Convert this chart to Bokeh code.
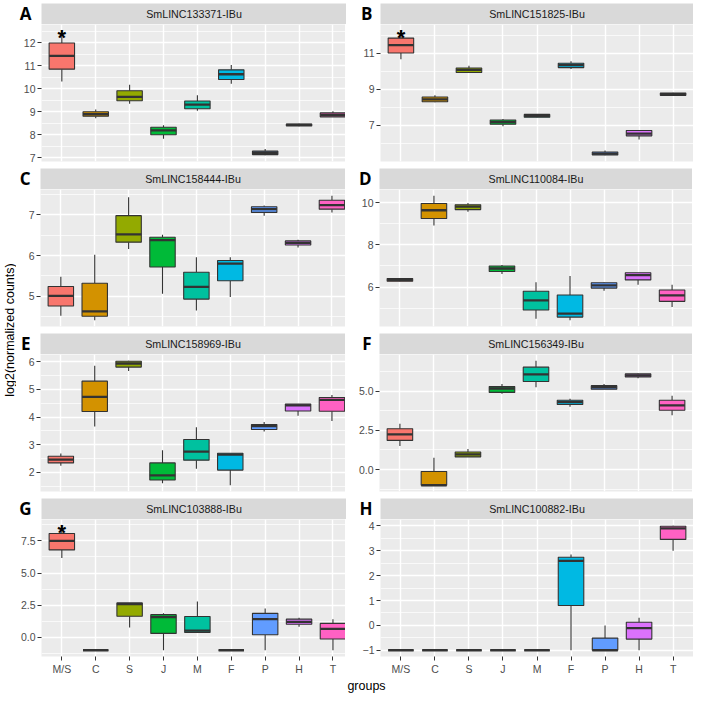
import math
from bokeh.plotting import figure
from bokeh.models import Range1d, FixedTicker, Label, PrintfTickFormatter
from bokeh.layouts import row, column
from bokeh.embed import file_html
from bokeh.resources import INLINE
from bokeh.core.properties import value

# ---------------- data ----------------
groups = ["M/S", "C", "S", "J", "M", "F", "P", "H", "T"]
colors = ["#F8766D", "#D39200", "#93AA00", "#00BA38", "#00C19F",
          "#00B9E3", "#619CFF", "#DB72FB", "#FF61C3"]

A_title = "SmLINC133371-IBu"
A_low  = [10.31, 8.72, 9.35, 7.83, 9.04, 10.22, 7.11, 8.37, 8.78]
A_q1   = [10.85, 8.81, 9.48, 8.00, 9.13, 10.40, 7.14, 8.38, 8.78]
A_med  = [11.43, 8.90, 9.65, 8.19, 9.31, 10.63, 7.22, 8.43, 8.86]
A_q3   = [11.99, 9.00, 9.91, 8.33, 9.47, 10.82, 7.29, 8.47, 8.95]
A_high = [12.52, 9.10, 10.17, 8.41, 9.72, 11.03, 7.38, 8.48, 9.02]
A_ticks = [7, 8, 9, 10, 11, 12]

B_title = "SmLINC151825-IBu"
B_low  = [10.65, 8.26, 9.92, 6.93, 7.42, 10.12, 5.32, 6.19, 8.63]
B_q1   = [11.00, 8.29, 9.92, 7.04, 7.43, 10.19, 5.34, 6.40, 8.65]
B_med  = [11.44, 8.43, 10.06, 7.16, 7.51, 10.33, 5.41, 6.52, 8.72]
B_q3   = [11.83, 8.56, 10.17, 7.28, 7.59, 10.43, 5.50, 6.70, 8.78]
B_high = [12.24, 8.66, 10.29, 7.34, 7.60, 10.54, 5.58, 6.70, 8.80]
B_ticks = [7, 9, 11]

C_title = "SmLINC158444-IBu"
C_low  = [4.52, 4.41, 6.16, 5.06, 4.65, 4.98, 6.98, 6.20, 7.06]
C_q1   = [4.76, 4.51, 6.33, 5.72, 4.93, 5.38, 7.06, 6.26, 7.14]
C_med  = [5.01, 4.63, 6.52, 6.38, 5.23, 5.80, 7.14, 6.31, 7.24]
C_q3   = [5.24, 5.32, 6.98, 6.45, 5.59, 5.88, 7.20, 6.36, 7.36]
C_high = [5.48, 6.02, 7.43, 6.51, 5.96, 5.96, 7.23, 6.39, 7.47]
C_ticks = [5, 6, 7]

D_title = "SmLINC110084-IBu"
D_low  = [6.26, 8.92, 9.58, 6.62, 4.49, 4.42, 5.82, 6.11, 5.05]
D_q1   = [6.28, 9.26, 9.68, 6.74, 4.91, 4.57, 5.95, 6.34, 5.32]
D_med  = [6.34, 9.65, 9.82, 6.88, 5.37, 4.74, 6.08, 6.57, 5.60]
D_q3   = [6.40, 9.97, 9.91, 7.00, 5.80, 5.62, 6.20, 6.68, 5.86]
D_high = [6.42, 10.34, 10.00, 7.05, 6.23, 6.52, 6.23, 6.68, 6.11]
D_ticks = [6, 8, 10]

E_title = "SmLINC158969-IBu"
E_low  = [2.24, 3.66, 5.67, 1.60, 2.13, 1.53, 3.48, 4.05, 3.86]
E_q1   = [2.34, 4.20, 5.81, 1.72, 2.44, 2.08, 3.55, 4.22, 4.21]
E_med  = [2.46, 4.73, 5.94, 1.89, 2.75, 2.64, 3.67, 4.42, 4.62]
E_q3   = [2.58, 5.30, 6.02, 2.34, 3.19, 2.69, 3.73, 4.47, 4.71]
E_high = [2.68, 5.86, 6.04, 2.80, 3.63, 2.69, 3.82, 4.47, 4.80]
E_ticks = [2, 3, 4, 5, 6]

F_title = "SmLINC156349-IBu"
F_low  = [1.51, -1.00, 0.81, 4.83, 5.25, 4.01, 5.12, 5.83, 3.47]
F_q1   = [1.86, -1.00, 0.81, 4.92, 5.62, 4.15, 5.12, 5.91, 3.78]
F_med  = [2.25, -1.00, 0.97, 5.17, 6.07, 4.30, 5.25, 6.01, 4.09]
F_q3   = [2.60, -0.12, 1.12, 5.29, 6.53, 4.42, 5.35, 6.10, 4.42]
F_high = [2.93, 0.76, 1.32, 5.45, 6.94, 4.52, 5.45, 6.12, 4.71]
F_ticks = [0.0, 2.5, 5.0]

G_title = "SmLINC103888-IBu"
G_low  = [6.17, -1.00, 0.77, -1.00, 0.39, -1.00, -1.00, 0.82, -1.00]
G_q1   = [6.80, -1.00, 1.65, 0.31, 0.39, -1.00, 0.21, 1.02, -0.12]
G_med  = [7.50, -1.00, 2.58, 1.57, 0.52, -1.00, 1.42, 1.20, 0.67]
G_q3   = [8.08, -1.00, 2.68, 1.77, 1.62, -1.00, 1.87, 1.42, 1.09]
G_high = [8.68, -1.00, 2.68, 1.87, 2.80, -1.00, 2.25, 1.52, 1.42]
G_ticks = [0.0, 2.5, 5.0, 7.5]

H_title = "SmLINC100882-IBu"
H_low  = [-1.00, -1.00, -1.00, -1.00, -1.00, -1.00, -1.00, -1.00, 3.00]
H_q1   = [-1.00, -1.00, -1.00, -1.00, -1.00, 0.80, -1.00, -0.55, 3.46]
H_med  = [-1.00, -1.00, -1.00, -1.00, -1.00, 2.60, -1.00, -0.11, 3.90]
H_q3   = [-1.00, -1.00, -1.00, -1.00, -1.00, 2.74, -0.51, 0.13, 3.99]
H_high = [-1.00, -1.00, -1.00, -1.00, -1.00, 2.85, 0.00, 0.31, 4.01]
H_ticks = [-1, 0, 1, 2, 3, 4]

star_panels = ["A", "B", "G"]   # significance mark on M/S
y_label = "log2(normalized counts)"
x_label = "groups"

# ---------------- layout constants ----------------
YLAB_W = 16
L_BORDER = 24
R_BORDER = 34
LEFT_FW = 305
RIGHT_FW = 313
SH = 21      # strip height
PH = 137     # panel height
GAP_B = 4    # space below a panel
GAP_T = 3    # space above a strip
TOP = 3
AXIS_H = 19
GROUPS_H = 17

FONT = "Liberation Sans"
GRID_BG = "#EBEBEB"
STRIP_BG = "#D9D9D9"
LINE = "#333333"


def bare_fig(w, h, **kw):
    f = figure(frame_width=w, frame_height=h, x_range=Range1d(0, w), y_range=Range1d(0, h),
               toolbar_location=None, output_backend="svg",
               x_axis_location=None, y_axis_location=None, **kw)
    f.outline_line_color = None
    f.background_fill_color = "white"
    f.border_fill_color = "white"
    f.xgrid.visible = False
    f.ygrid.visible = False
    return f


def x_range_for(col):
    return Range1d(0.4, 9.4) if col == 0 else Range1d(0.4, 9.6)


def make_strip(letter, title, col, first_row):
    bl = L_BORDER if col == 0 else R_BORDER
    fw = LEFT_FW if col == 0 else RIGHT_FW
    xr = x_range_for(col)
    s = figure(frame_width=fw, frame_height=SH, x_range=xr, y_range=Range1d(0, SH),
               x_axis_location=None, y_axis_location="left",
               toolbar_location=None, output_backend="svg",
               min_border_left=bl, min_border_right=0,
               min_border_top=TOP if first_row else GAP_T, min_border_bottom=0)
    s.background_fill_color = STRIP_BG
    s.border_fill_color = "white"
    s.outline_line_color = None
    s.xgrid.visible = False
    s.ygrid.visible = False
    mid = SH / 2
    ltick = 11.5
    ax = s.yaxis[0]
    ax.ticker = FixedTicker(ticks=[ltick], minor_ticks=[])
    ax.major_label_overrides = {ltick: letter}
    ax.axis_line_color = None
    ax.major_tick_line_color = None
    ax.major_tick_out = 0
    ax.major_tick_in = 0
    ax.minor_tick_line_color = None
    ax.major_label_standoff = 10 if col == 0 else 8
    ax.major_label_text_font = "Open Sans"
    ax.major_label_text_font_style = "bold"
    ax.major_label_text_font_size = "17px"
    ax.major_label_text_color = "black"
    s.add_layout(Label(x=(xr.start + xr.end) / 2, y=mid, text=title, text_align="center",
                       text_baseline="middle", text_font=FONT, text_font_size="10.7px",
                       text_color="#1A1A1A"))
    return s


def make_panel(letter, low, q1, med, q3, high, ticks, fmt, col, bottom_row):
    xs = list(range(1, len(groups) + 1))
    lo, hi = min(low), max(high)
    d = hi - lo
    lo_e, hi_e = lo - 0.05 * d, hi + 0.05 * d
    fw = LEFT_FW if col == 0 else RIGHT_FW
    p = figure(frame_width=fw, frame_height=PH, x_range=x_range_for(col), y_range=Range1d(lo_e, hi_e),
               x_axis_location="below" if bottom_row else None, y_axis_location="left",
               toolbar_location=None, output_backend="svg",
               min_border_left=L_BORDER if col == 0 else R_BORDER, min_border_right=0,
               min_border_top=0,
               min_border_bottom=AXIS_H if bottom_row else GAP_B)
    p.background_fill_color = GRID_BG
    p.border_fill_color = "white"
    p.outline_line_color = None

    step = ticks[1] - ticks[0]
    minor = [ticks[0] - step / 2] + [t + step / 2 for t in ticks]
    yt = FixedTicker(ticks=ticks, minor_ticks=minor)
    xt = FixedTicker(ticks=xs, minor_ticks=[])

    p.xgrid.ticker = xt
    p.ygrid.ticker = yt
    for g in (p.xgrid[0], p.ygrid[0]):
        g.grid_line_color = "white"
        g.grid_line_width = 1.4
    p.ygrid.minor_grid_line_color = "white"
    p.ygrid.minor_grid_line_width = 0.7

    ax = p.yaxis[0]
    ax.ticker = yt
    ax.axis_line_color = None
    ax.major_tick_line_color = LINE
    ax.major_tick_out = 4
    ax.major_tick_in = 0
    ax.minor_tick_line_color = None
    ax.major_label_text_color = "#4D4D4D"
    ax.major_label_text_font = FONT
    ax.major_label_text_font_size = "10.5px"
    ax.major_label_standoff = 2
    if fmt:
        ax.formatter = PrintfTickFormatter(format=fmt)

    if bottom_row:
        bx = p.xaxis[0]
        bx.ticker = xt
        bx.major_label_overrides = {i: g for i, g in zip(xs, groups)}
        bx.axis_line_color = None
        bx.major_tick_line_color = LINE
        bx.major_tick_out = 4
        bx.major_tick_in = 0
        bx.minor_tick_line_color = None
        bx.major_label_text_color = "#4D4D4D"
        bx.major_label_text_font = FONT
        bx.major_label_text_font_size = "10.5px"
        bx.major_label_standoff = 2

    p.segment(x0=xs, y0=q3, x1=xs, y1=high, line_color=LINE, line_width=1.1)
    p.segment(x0=xs, y0=low, x1=xs, y1=q1, line_color=LINE, line_width=1.1)
    p.vbar(x=xs, width=0.75, bottom=q1, top=q3, fill_color=colors,
           line_color=LINE, line_width=1.1)
    p.segment(x0=[x - 0.375 for x in xs], y0=med, x1=[x + 0.375 for x in xs], y1=med,
              line_color=LINE, line_width=2.3)

    if letter in star_panels:
        p.text(x=[xs[0]], y=[high[0]], text=["*"], text_align="center",
               text_baseline="alphabetic", y_offset=7,
               text_font=value(FONT), text_font_style="bold",
               text_font_size="22px", text_color="black")
    return p


specs = [
    ("A", A_title, A_low, A_q1, A_med, A_q3, A_high, A_ticks, None),
    ("B", B_title, B_low, B_q1, B_med, B_q3, B_high, B_ticks, None),
    ("C", C_title, C_low, C_q1, C_med, C_q3, C_high, C_ticks, None),
    ("D", D_title, D_low, D_q1, D_med, D_q3, D_high, D_ticks, None),
    ("E", E_title, E_low, E_q1, E_med, E_q3, E_high, E_ticks, None),
    ("F", F_title, F_low, F_q1, F_med, F_q3, F_high, F_ticks, "%.1f"),
    ("G", G_title, G_low, G_q1, G_med, G_q3, G_high, G_ticks, "%.1f"),
    ("H", H_title, H_low, H_q1, H_med, H_q3, H_high, H_ticks, None),
]

cells = []
for i, (letter, title, low, q1, med, q3, high, ticks, fmt) in enumerate(specs):
    r_i, c_i = divmod(i, 2)
    strip = make_strip(letter, title, c_i, r_i == 0)
    panel = make_panel(letter, low, q1, med, q3, high, ticks, fmt, c_i, r_i == 3)
    cells.append(column(strip, panel))

grid = column(*[row(cells[2 * k], cells[2 * k + 1]) for k in range(4)])

panel_area_h = 4 * (SH + PH) + 3 * (GAP_B + GAP_T)
grid_h = TOP + panel_area_h + AXIS_H

ylab = bare_fig(YLAB_W, grid_h, min_border=0)
ylab.add_layout(Label(x=YLAB_W / 2 + 1, y=grid_h - (TOP + panel_area_h / 2), text=y_label,
                      angle=math.pi / 2, text_align="center", text_baseline="middle",
                      text_font=FONT, text_font_size="12.5px", text_color="black"))

total_w = YLAB_W + L_BORDER + LEFT_FW + R_BORDER + RIGHT_FW
gfig = bare_fig(total_w, GROUPS_H, min_border=0)
gfig.add_layout(Label(x=YLAB_W + L_BORDER + (LEFT_FW + R_BORDER + RIGHT_FW) / 2, y=GROUPS_H / 2,
                      text=x_label, text_align="center", text_baseline="middle",
                      text_font=FONT, text_font_size="12.5px", text_color="black"))

layout = column(row(ylab, grid), gfig)

open("out.html", "w").write(file_html(layout, INLINE))
